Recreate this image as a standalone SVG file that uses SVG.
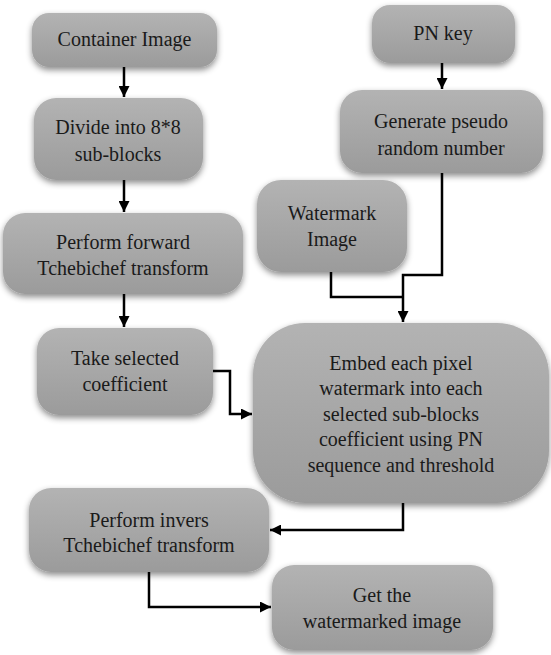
<svg xmlns="http://www.w3.org/2000/svg" width="551" height="655" viewBox="0 0 551 655">
<defs>
<linearGradient id="g" x1="0" y1="0" x2="0" y2="1">
<stop offset="0" stop-color="#b3b3b3"/>
<stop offset="1" stop-color="#9b9b9b"/>
</linearGradient>
<filter id="sh" x="-10%" y="-10%" width="120%" height="130%">
<feDropShadow dx="0" dy="3" stdDeviation="3" flood-color="#000" flood-opacity="0.45"/>
</filter>
<marker id="ah" viewBox="0 0 10 10" refX="10" refY="5" markerWidth="11" markerHeight="11" markerUnits="userSpaceOnUse" orient="auto">
<path d="M0,0 L10,5 L0,10 z" fill="#000"/>
</marker>
</defs>
<style>
.box{fill:url(#g);filter:url(#sh);}
text{font-family:'Liberation Serif','Times New Roman',serif;font-size:20px;fill:#1a1a1a;text-anchor:middle;}
.c{fill:none;stroke:#000;stroke-width:2.5;}
</style>
<rect width="551" height="655" fill="#fff"/>
<g id="container">
<rect class="box" x="32" y="13" width="185" height="54" rx="17"/>
<text x="124.5" y="46">Container Image</text>
</g>
<g id="divide">
<rect class="box" x="34" y="98" width="169" height="82" rx="22"/>
<text x="118" y="134">Divide into 8*8</text>
<text x="118" y="161">sub-blocks</text>
</g>
<g id="forward">
<rect class="box" x="3" y="213" width="240" height="81" rx="22"/>
<text x="123" y="249">Perform forward</text>
<text x="123" y="275">Tchebichef transform</text>
</g>
<g id="take">
<rect class="box" x="37" y="328" width="176" height="87" rx="22"/>
<text x="125" y="365">Take selected</text>
<text x="125" y="391">coefficient</text>
</g>
<g id="invers">
<rect class="box" x="29" y="488" width="240" height="84" rx="22"/>
<text x="149" y="527">Perform invers</text>
<text x="149" y="552">Tchebichef transform</text>
</g>
<g id="get">
<rect class="box" x="272" y="565" width="221" height="85" rx="22"/>
<text x="382" y="602">Get the</text>
<text x="382" y="628">watermarked image</text>
</g>
<g id="pnkey">
<rect class="box" x="372" y="5" width="143" height="58" rx="18"/>
<text x="443" y="40">PN key</text>
</g>
<g id="generate">
<rect class="box" x="340" y="90" width="203" height="83" rx="22"/>
<text x="441" y="128">Generate pseudo</text>
<text x="441" y="155">random number</text>
</g>
<g id="watermark">
<rect class="box" x="257" y="180" width="150" height="92" rx="24"/>
<text x="332" y="220">Watermark</text>
<text x="332" y="246">Image</text>
</g>
<g id="embed">
<rect class="box" x="253" y="323" width="296" height="180" rx="52"/>
<text x="401" y="370">Embed each pixel</text>
<text x="401" y="395">watermark into each</text>
<text x="401" y="421">selected sub-blocks</text>
<text x="401" y="446">coefficient using PN</text>
<text x="401" y="472">sequence and threshold</text>
</g>
<g id="connectors">
<path class="c" d="M124,67 V97" marker-end="url(#ah)"/>
<path class="c" d="M124,180 V212" marker-end="url(#ah)"/>
<path class="c" d="M124,294 V327" marker-end="url(#ah)"/>
<path class="c" d="M213,371 H230 V414 H252" marker-end="url(#ah)"/>
<path class="c" d="M403,503 V530 H270" marker-end="url(#ah)"/>
<path class="c" d="M149,572 V607 H271" marker-end="url(#ah)"/>
<path class="c" d="M442,63 V89" marker-end="url(#ah)"/>
<path class="c" d="M442,173 V275 H403 V322" marker-end="url(#ah)"/>
<path class="c" d="M331,272 V297 H403"/>
</g>
</svg>
